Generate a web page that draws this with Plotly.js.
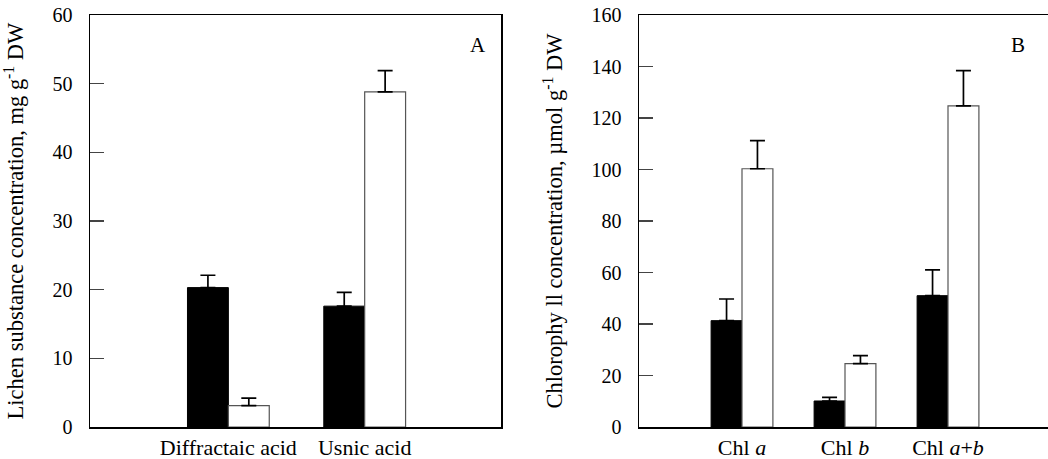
<!DOCTYPE html>
<html>
<head>
<meta charset="utf-8">
<script src="https://cdn.plot.ly/plotly-3.0.1.min.js"></script>
<style>
html,body{margin:0;padding:0;overflow:hidden;background:#fff;}
#chart{width:1052px;height:459px;}
</style>
</head>
<body>
<div id="chart"></div>
<script>
// Panel A: lichen substances
const catsA = ["Diffractaic acid", "Usnic acid"];
const blackA = [20.3, 17.6];
const blackAerr = [1.8, 2.0];
const whiteA = [3.1, 48.8];
const whiteAerr = [1.1, 3.1];

// Panel B: chlorophyll
const catsB = ["Chl <i>a</i>", "Chl <i>b</i>", "Chl <i>a</i>+<i>b</i>"];
const blackB = [41.3, 10.1, 51.0];
const blackBerr = [8.4, 1.4, 10.0];
const whiteB = [100.3, 24.6, 124.7];
const whiteBerr = [10.9, 3.1, 13.7];

const W = 1052;
const FONT = "Liberation Serif";
const idxA = catsA.map((_, i) => i);
const idxB = catsB.map((_, i) => i);

function err(arr) {
  return {type: "data", symmetric: false, array: arr, arrayminus: arr.map(() => 0),
          color: "#000", thickness: 1.7, width: 7.5};
}

const traces = [
  {type: "bar", x: idxA, y: blackA, xaxis: "x", yaxis: "y", offsetgroup: "1",
   marker: {color: "#000", line: {color: "#000", width: 1}}, error_y: err(blackAerr)},
  {type: "bar", x: idxA, y: whiteA, xaxis: "x", yaxis: "y", offsetgroup: "2",
   marker: {color: "#fff", line: {color: "#555", width: 1.2}}, error_y: err(whiteAerr)},
  {type: "bar", x: idxB, y: blackB, xaxis: "x2", yaxis: "y2", offsetgroup: "1",
   marker: {color: "#000", line: {color: "#000", width: 1}}, error_y: err(blackBerr)},
  {type: "bar", x: idxB, y: whiteB, xaxis: "x2", yaxis: "y2", offsetgroup: "2",
   marker: {color: "#fff", line: {color: "#555", width: 1.2}}, error_y: err(whiteBerr)}
];

const yCommon = {
  showline: true, linecolor: "#000", linewidth: 1.5, mirror: true,
  ticks: "inside", ticklen: 14, tickcolor: "#444", tickwidth: 1.2,
  showgrid: false, zeroline: false, ticklabelstandoff: 12,
  tickfont: {family: FONT, size: 20, color: "#000"},
  automargin: false
};
const xCommon = {
  showline: true, linecolor: "#000", linewidth: 1.5, mirror: true,
  ticks: "", showgrid: false, zeroline: false,
  tickfont: {family: FONT, size: 22, color: "#000"},
  automargin: false
};

const layout = {
  width: W, height: 459,
  margin: {l: 0, r: 0, t: 15, b: 32},
  paper_bgcolor: "#fff", plot_bgcolor: "#fff",
  showlegend: false,
  barmode: "group", bargap: 0.4, bargroupgap: 0,
  font: {family: FONT, color: "#000"},
  xaxis: Object.assign({}, xCommon, {
    domain: [90 / W, 501 / W], range: [-1.015, 2.0],
    tickvals: idxA, ticktext: catsA, anchor: "y"
  }),
  yaxis: Object.assign({}, yCommon, {
    range: [0, 60], dtick: 10, anchor: "x",
    title: {text: "Lichen substance concentration, mg g<sup>-1</sup> DW",
            font: {family: FONT, size: 22.5, color: "#000"}, standoff: 22}
  }),
  xaxis2: Object.assign({}, xCommon, {
    domain: [639 / W, 1051 / W], range: [-1.0, 3.0],
    tickvals: idxB, ticktext: catsB, anchor: "y2"
  }),
  yaxis2: Object.assign({}, yCommon, {
    range: [0, 160], dtick: 20, anchor: "x2",
    title: {text: "Chlorophy ll concentration, µmol g<sup>-1</sup> DW",
            font: {family: FONT, size: 22.5, color: "#000"}, standoff: 22}
  }),
  annotations: [
    {text: "A", xref: "paper", yref: "paper", x: 478 / W, y: 1 - (45 - 15) / 412,
     xanchor: "center", yanchor: "middle",
     showarrow: false, font: {family: FONT, size: 21, color: "#000"}},
    {text: "B", xref: "paper", yref: "paper", x: 1018 / W, y: 1 - (45 - 15) / 412,
     xanchor: "center", yanchor: "middle",
     showarrow: false, font: {family: FONT, size: 21, color: "#000"}}
  ]
};

Plotly.newPlot("chart", traces, layout, {displayModeBar: false, staticPlot: true});
</script>
</body>
</html>
